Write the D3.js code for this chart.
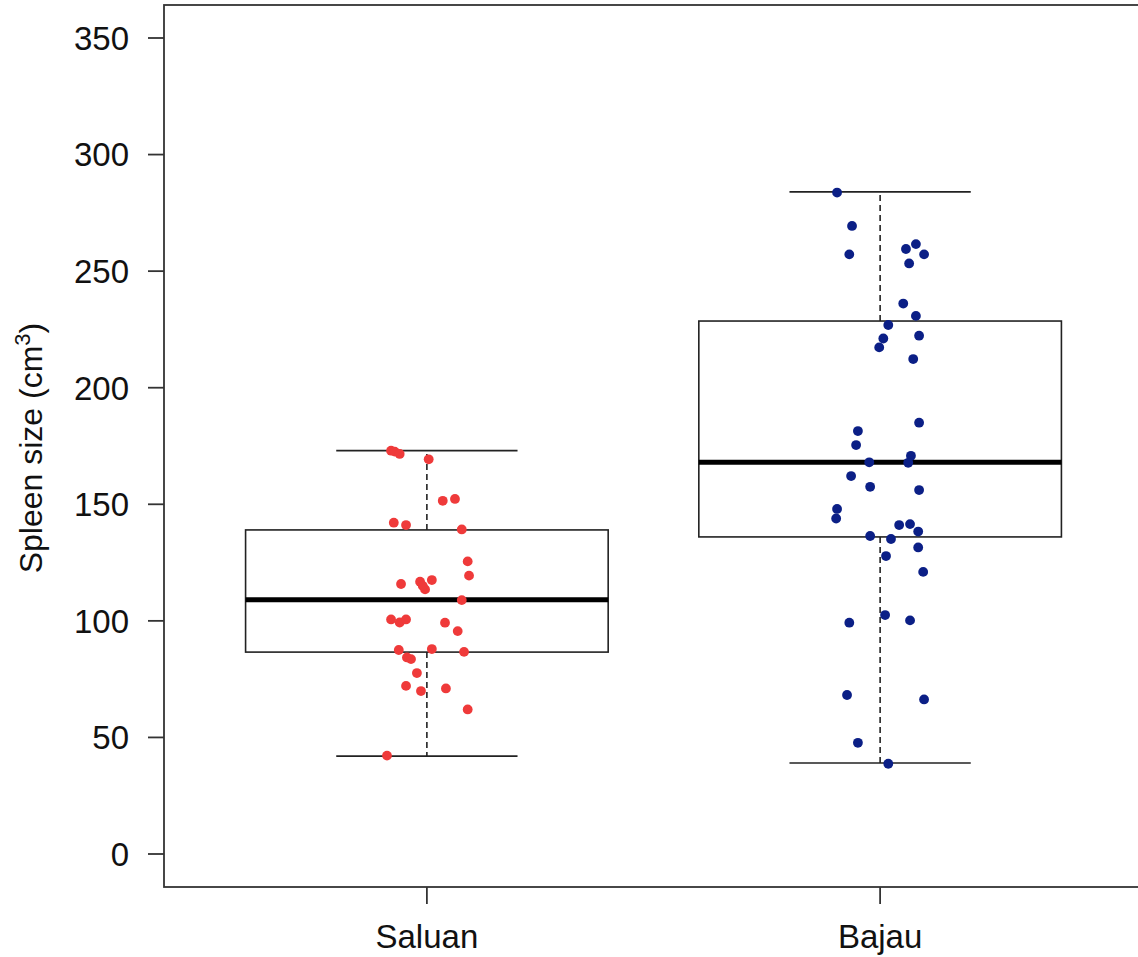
<!DOCTYPE html>
<html>
<head>
<meta charset="utf-8">
<script src="https://d3js.org/d3.v7.min.js"></script>
<style>
  body { margin: 0; background: #fff; }
  svg text { font-family: "Liberation Sans", Arial, Helvetica, sans-serif; fill: #111; }
</style>
</head>
<body>
<div id="chart"></div>
<script>
// groups on the x axis
var groups = ["Saluan", "Bajau"];
var yTicks = [0, 50, 100, 150, 200, 250, 300, 350];

// box stats: lower whisker, Q1, median, Q3, upper whisker
var saluanBox = [42, 86.6, 109, 139, 173];
var bajauBox = [39, 136, 168, 228.6, 284];

// spleen sizes (cm3), with the horizontal jitter (in group units)
var saluanValues = [173.0, 172.6, 171.6, 169.3, 151.5, 152.3, 142.1, 141.1, 139.2, 125.5, 119.4,
  115.8, 116.8, 117.5, 113.5, 115.0, 108.9, 100.6, 99.3, 100.6, 99.2, 95.6, 87.5, 87.9, 86.7,
  84.3, 83.6, 77.6, 72.1, 69.9, 71.0, 62.0, 42.2];
var saluanJitter = [-0.079, -0.071, -0.060, 0.004, 0.035, 0.062, -0.073, -0.046, 0.077, 0.090, 0.093,
  -0.057, -0.015, 0.011, -0.004, -0.009, 0.077, -0.079, -0.060, -0.046, 0.040, 0.068, -0.062, 0.011, 0.082,
  -0.044, -0.035, -0.022, -0.046, -0.013, 0.042, 0.090, -0.088];

var bajauValues = [283.7, 269.4, 257.2, 259.5, 261.6, 257.2, 253.3, 236.1, 230.8, 226.9, 222.3,
  221.1, 217.3, 212.3, 185.0, 181.4, 175.4, 168.0, 170.8, 167.8, 162.1, 157.5, 156.1, 148.0,
  143.9, 141.1, 141.5, 138.3, 136.4, 135.1, 131.5, 127.8, 121.0, 102.5, 99.2, 100.2, 68.2,
  66.3, 47.7, 38.7];
var bajauJitter = [-0.095, -0.062, -0.068, 0.057, 0.079, 0.097, 0.064, 0.051, 0.079, 0.018, 0.086,
  0.007, -0.002, 0.073, 0.086, -0.049, -0.053, -0.024, 0.068, 0.062, -0.064, -0.022, 0.086, -0.095,
  -0.097, 0.042, 0.066, 0.084, -0.022, 0.024, 0.084, 0.013, 0.095, 0.011, -0.068, 0.066, -0.073,
  0.097, -0.049, 0.018];

var colors = ["#ef3a3a", "#0b1f86"];

var width = 1138, height = 957;
var svg = d3.select("#chart").append("svg").attr("width", width).attr("height", height);

// R style: groups at 1 and 2, axis range padded by 4%
var x = d3.scaleLinear().domain([0.42, 2.58]).range([164, 1143]);
var y = d3.scaleLinear().domain([0, 350]).range([854, 38]);

var frameTop = 5, frameBottom = 887, frameLeft = 164;

// frame (right side falls off the picture)
svg.append("rect")
  .attr("x", frameLeft).attr("y", frameTop)
  .attr("width", 1150 - frameLeft).attr("height", frameBottom - frameTop)
  .attr("fill", "none").attr("stroke", "#333").attr("stroke-width", 1.8);

// y axis ticks
var yAxis = svg.append("g");
yAxis.selectAll("line").data(yTicks).enter().append("line")
  .attr("x1", 148).attr("x2", frameLeft)
  .attr("y1", function (d) { return y(d); }).attr("y2", function (d) { return y(d); })
  .attr("stroke", "#333").attr("stroke-width", 1.8);
yAxis.selectAll("text").data(yTicks).enter().append("text")
  .attr("x", 129).attr("y", function (d) { return y(d); })
  .attr("dy", "0.36em").attr("text-anchor", "end")
  .attr("font-size", 33)
  .text(function (d) { return d; });

// x axis ticks
var xAxis = svg.append("g");
xAxis.selectAll("line").data(groups).enter().append("line")
  .attr("x1", function (d, i) { return x(i + 1); }).attr("x2", function (d, i) { return x(i + 1); })
  .attr("y1", frameBottom).attr("y2", 904)
  .attr("stroke", "#333").attr("stroke-width", 1.8);
xAxis.selectAll("text").data(groups).enter().append("text")
  .attr("x", function (d, i) { return x(i + 1); }).attr("y", 948)
  .attr("text-anchor", "middle").attr("font-size", 33)
  .text(function (d) { return d; });

// y title
var title = svg.append("text")
  .attr("transform", "translate(42,448) rotate(-90)")
  .attr("text-anchor", "middle").attr("font-size", 32);
title.append("tspan").text("Spleen size (cm");
title.append("tspan").attr("dy", -12).attr("font-size", 22).text("3");
title.append("tspan").attr("dy", 12).text(")");

// boxes
var boxes = [saluanBox, bajauBox];
boxes.forEach(function (b, i) {
  var cx = i + 1;
  var g = svg.append("g");
  // dashed whiskers
  g.append("line").attr("x1", x(cx)).attr("x2", x(cx)).attr("y1", y(b[3])).attr("y2", y(b[4]))
    .attr("stroke", "#222").attr("stroke-width", 1.6).attr("stroke-dasharray", "6,4");
  g.append("line").attr("x1", x(cx)).attr("x2", x(cx)).attr("y1", y(b[1])).attr("y2", y(b[0]))
    .attr("stroke", "#222").attr("stroke-width", 1.6).attr("stroke-dasharray", "6,4");
  // caps
  [b[0], b[4]].forEach(function (v) {
    g.append("line").attr("x1", x(cx - 0.2)).attr("x2", x(cx + 0.2)).attr("y1", y(v)).attr("y2", y(v))
      .attr("stroke", "#222").attr("stroke-width", 1.6);
  });
  g.append("rect")
    .attr("x", x(cx - 0.4)).attr("y", y(b[3]))
    .attr("width", x(cx + 0.4) - x(cx - 0.4)).attr("height", y(b[1]) - y(b[3]))
    .attr("fill", "none").attr("stroke", "#222").attr("stroke-width", 1.6);
  g.append("line").attr("x1", x(cx - 0.4)).attr("x2", x(cx + 0.4)).attr("y1", y(b[2])).attr("y2", y(b[2]))
    .attr("stroke", "#000").attr("stroke-width", 5);
});

// jittered points
var sets = [[saluanValues, saluanJitter], [bajauValues, bajauJitter]];
sets.forEach(function (s, i) {
  svg.append("g").selectAll("circle")
    .data(s[0]).enter().append("circle")
    .attr("cx", function (d, j) { return x(i + 1 + s[1][j]); })
    .attr("cy", function (d) { return y(d); })
    .attr("r", 4.9)
    .attr("fill", colors[i]);
});
</script>
</body>
</html>
